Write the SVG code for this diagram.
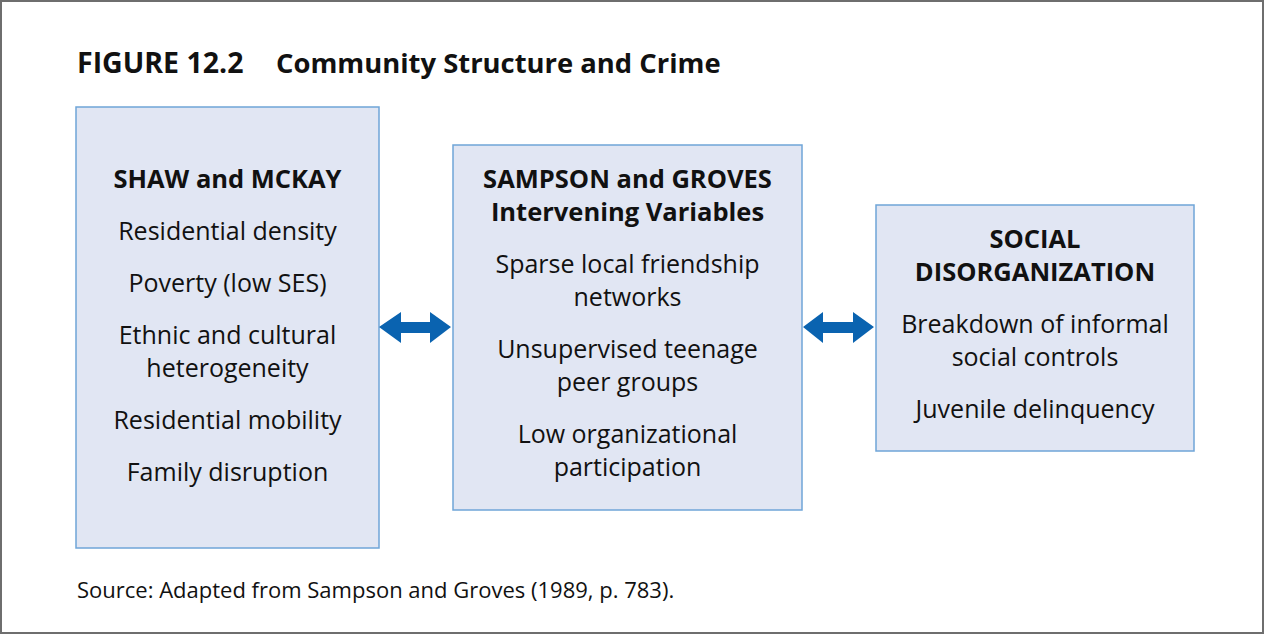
<svg xmlns="http://www.w3.org/2000/svg" width="1264" height="634" viewBox="0 0 1264 634">
<style>
.t{font-family:"Open Sans","Noto Sans",sans-serif;fill:#111;text-anchor:middle;font-size:25px}
.b{font-weight:bold;font-size:25.5px}
.box{fill:#e1e6f3;stroke:#6fa5d8;stroke-width:1.5}
.arr{fill:#0a63b0}
</style>
<rect x="1" y="1" width="1262" height="632" fill="#fff" stroke="#6e6e6e" stroke-width="2"/>
<text x="77" y="73" font-family="Open Sans, Noto Sans, sans-serif" font-weight="bold" font-size="28.5" fill="#111">FIGURE 12.2<tspan x="276" font-size="27.4">Community Structure and Crime</tspan></text>
<g id="shaw">
<rect class="box" x="76" y="107" width="303" height="441"/>
<text class="t b" x="227.5" y="188">SHAW and MCKAY</text>
<text class="t" x="227.5" y="240">Residential density</text>
<text class="t" x="227.5" y="292">Poverty (low SES)</text>
<text class="t" x="227.5" y="344">Ethnic and cultural</text>
<text class="t" x="227.5" y="377">heterogeneity</text>
<text class="t" x="227.5" y="429">Residential mobility</text>
<text class="t" x="227.5" y="481">Family disruption</text>
</g>
<g id="sampson">
<rect class="box" x="453" y="145" width="349" height="365"/>
<text class="t b" x="627.5" y="188">SAMPSON and GROVES</text>
<text class="t b" x="627.5" y="221">Intervening Variables</text>
<text class="t" x="627.5" y="273">Sparse local friendship</text>
<text class="t" x="627.5" y="306">networks</text>
<text class="t" x="627.5" y="358">Unsupervised teenage</text>
<text class="t" x="627.5" y="391">peer groups</text>
<text class="t" x="627.5" y="443">Low organizational</text>
<text class="t" x="627.5" y="476">participation</text>
</g>
<g id="social">
<rect class="box" x="876" y="205" width="318" height="246"/>
<text class="t b" x="1035" y="248">SOCIAL</text>
<text class="t b" x="1035" y="281">DISORGANIZATION</text>
<text class="t" x="1035" y="333">Breakdown of informal</text>
<text class="t" x="1035" y="366">social controls</text>
<text class="t" x="1035" y="418">Juvenile delinquency</text>
</g>
<g id="connectors">
<polygon class="arr" points="379,327 401,312 401,322 430,322 430,312 451,327 430,343 430,333 401,333 401,343"/>
<polygon class="arr" points="803,327 823,312 823,322 853,322 853,312 874,327 853,343 853,333 823,333 823,343"/>
</g>
<text x="77" y="598" font-family="Open Sans, Noto Sans, sans-serif" font-size="22" fill="#111">Source: Adapted from Sampson and Groves (1989, p. 783).</text>
</svg>
